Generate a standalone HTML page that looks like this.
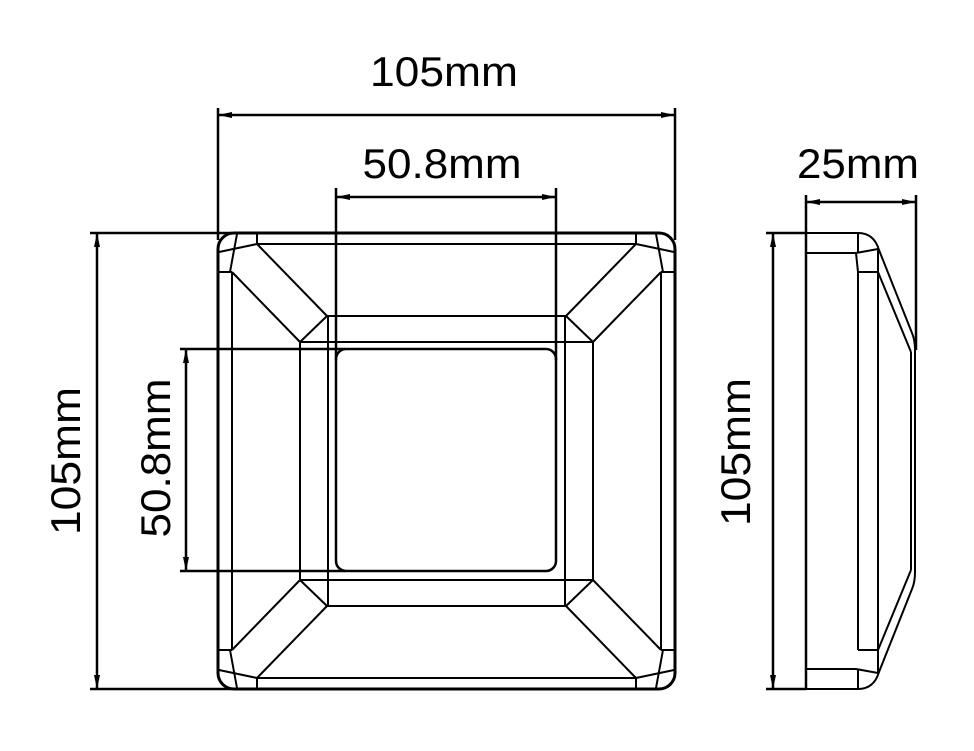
<!DOCTYPE html>
<html><head><meta charset="utf-8"><style>
html,body{margin:0;padding:0;background:#fff;}
svg{display:block;}
text{font-family:"Liberation Sans",sans-serif;font-size:42px;fill:#000;}
</style></head><body>
<svg width="974" height="751" viewBox="0 0 974 751" xmlns="http://www.w3.org/2000/svg">
<defs>
<g id="q" stroke="#000" stroke-width="2" fill="none">
<line x1="232" y1="272" x2="232" y2="461.5"/>
<line x1="257" y1="244" x2="446.5" y2="244"/>
<line x1="300" y1="342" x2="300" y2="461.5"/>
<line x1="328" y1="316" x2="328" y2="461.5"/>
<line x1="327" y1="316" x2="446.5" y2="316"/>
<line x1="300" y1="342" x2="446.5" y2="342"/>
<line x1="232" y1="272" x2="300" y2="342"/>
<line x1="257" y1="244" x2="327" y2="316"/>
<line x1="300" y1="342" x2="327" y2="316"/>
<line x1="218" y1="272" x2="232" y2="272"/>
<line x1="257" y1="233" x2="257" y2="244"/>
<line x1="219" y1="252" x2="257" y2="244"/>
<line x1="230" y1="272" x2="237" y2="234"/>
</g>
</defs>
<use href="#q"/>
<use href="#q" transform="matrix(-1,0,0,1,893,0)"/>
<use href="#q" transform="matrix(1,0,0,-1,0,922)"/>
<use href="#q" transform="matrix(-1,0,0,-1,893,922)"/>
<rect x="218" y="233" width="457" height="456" rx="16" fill="none" stroke="#000" stroke-width="3"/>
<rect x="336" y="349" width="220" height="222" rx="10" fill="#fff" stroke="#000" stroke-width="2.5"/>

<!-- dims front -->
<g stroke="#000" stroke-width="2.5" fill="none">
<line x1="218" y1="108" x2="218" y2="240"/>
<line x1="675" y1="108" x2="675" y2="240"/>
<line x1="218" y1="115" x2="675" y2="115"/>
<line x1="336" y1="188" x2="336" y2="360"/>
<line x1="556" y1="188" x2="556" y2="360"/>
<line x1="336" y1="197" x2="556" y2="197"/>
<line x1="90" y1="233" x2="232" y2="233"/>
<line x1="90" y1="689" x2="232" y2="689"/>
<line x1="97" y1="233" x2="97" y2="689"/>
<line x1="180" y1="349" x2="345" y2="349"/>
<line x1="180" y1="571" x2="345" y2="571"/>
<line x1="186" y1="349" x2="186" y2="571"/>
</g>
<g fill="#000">
<polygon points="218,115 232,112 232,118"/>
<polygon points="675,115 661,112 661,118"/>
<polygon points="336,197 350,194 350,200"/>
<polygon points="556,197 542,194 542,200"/>
<polygon points="97,233 94,247 100,247"/>
<polygon points="97,689 94,675 100,675"/>
<polygon points="186,349 183,363 189,363"/>
<polygon points="186,571 183,557 189,557"/>
</g>
<text x="444" y="86" text-anchor="middle" textLength="148" lengthAdjust="spacingAndGlyphs">105mm</text>
<text x="442" y="178" text-anchor="middle" textLength="159" lengthAdjust="spacingAndGlyphs">50.8mm</text>
<text transform="translate(80,461) rotate(-90)" text-anchor="middle" textLength="148" lengthAdjust="spacingAndGlyphs">105mm</text>
<text transform="translate(170,458) rotate(-90)" text-anchor="middle" textLength="159" lengthAdjust="spacingAndGlyphs">50.8mm</text>

<!-- side view -->
<g stroke="#000" stroke-width="2" fill="none">
<path d="M806,233 H858 Q874,233 879,250 L912,333 Q915,340 915,350 V572 Q915,582 912,589 L879,672 Q874,689 858,689 H806"/>
<line x1="806" y1="253" x2="856" y2="253"/>
<line x1="856" y1="253" x2="878" y2="249"/>
<line x1="858" y1="233" x2="858" y2="253"/>
<line x1="856" y1="253" x2="858" y2="272"/>
<line x1="858" y1="272" x2="858" y2="650"/>
<line x1="858" y1="272" x2="878" y2="272"/>
<line x1="878" y1="250" x2="878" y2="672"/>
<line x1="878" y1="272" x2="911" y2="352"/>
<line x1="911" y1="352" x2="911" y2="570"/>
<line x1="806" y1="669" x2="856" y2="669"/>
<line x1="856" y1="669" x2="878" y2="673"/>
<line x1="858" y1="689" x2="858" y2="669"/>
<line x1="858" y1="650" x2="878" y2="650"/>
<line x1="878" y1="650" x2="911" y2="570"/>
</g>
<g stroke="#000" stroke-width="2.5" fill="none">
<line x1="806" y1="195" x2="806" y2="689"/>
<line x1="916" y1="195" x2="916" y2="350"/>
<line x1="806" y1="202" x2="916" y2="202"/>
<line x1="766" y1="233" x2="806" y2="233"/>
<line x1="766" y1="689" x2="806" y2="689"/>
<line x1="773" y1="233" x2="773" y2="689"/>
</g>
<g fill="#000">
<polygon points="806,202 820,199 820,205"/>
<polygon points="916,202 902,199 902,205"/>
<polygon points="773,233 770,247 776,247"/>
<polygon points="773,689 770,675 776,675"/>
</g>
<text x="858" y="178" text-anchor="middle" textLength="122" lengthAdjust="spacingAndGlyphs">25mm</text>
<text transform="translate(750,452) rotate(-90)" text-anchor="middle" textLength="148" lengthAdjust="spacingAndGlyphs">105mm</text>
</svg>
</body></html>
